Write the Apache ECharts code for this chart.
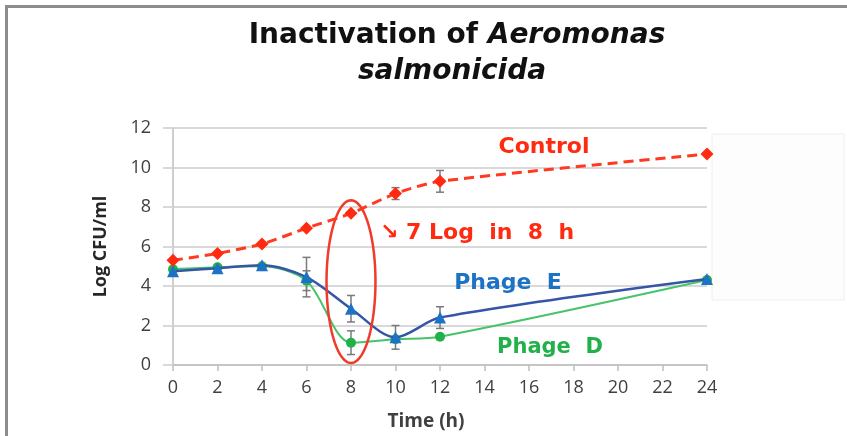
<!DOCTYPE html>
<html>
<head>
<meta charset="utf-8">
<script src="https://cdn.jsdelivr.net/npm/echarts@6/dist/echarts.min.js"></script>
<style>
  html, body { margin: 0; padding: 0; background: #fff; }
  #chart { width: 847px; height: 436px; }
</style>
</head>
<body>
<div id="chart"></div>
<script>
// Sampling times (h) and tick values
const times = [0, 2, 4, 6, 8, 10, 12, 24];
const xTicks = [0, 2, 4, 6, 8, 10, 12, 14, 16, 18, 20, 22, 24];
const yTicks = [0, 2, 4, 6, 8, 10, 12];

// Log CFU/ml for each treatment
const control = [5.3, 5.65, 6.13, 6.93, 7.68, 8.68, 9.3, 10.68];
const phageE = [4.75, 4.9, 5.05, 4.45, 2.85, 1.4, 2.4, 4.35];
const phageD = [4.85, 4.95, 5.0, 4.27, 1.13, 1.3, 1.43, 4.3];

// Standard deviations (0 = no bar drawn)
const controlErr = [0, 0, 0, 0, 0, 0.3, 0.55, 0];
const phageEErr = [0, 0, 0, 1.0, 0.67, 0.6, 0.55, 0];
const phageDErr = [0, 0, 0, 0.5, 0.6, 0, 0, 0];

const chart = echarts.init(document.getElementById('chart'));

function pairs(ys) { return times.map((t, i) => [t, ys[i]]); }
function errRows(ys, errs) {
  const rows = [];
  times.forEach((t, i) => { if (errs[i] > 0) rows.push([t, ys[i] - errs[i], ys[i] + errs[i]]); });
  return rows;
}

function errorSeries(rows) {
  return {
    type: 'custom',
    z: 1,
    silent: true,
    data: rows,
    renderItem: function (params, api) {
      const lo = api.coord([api.value(0), api.value(1)]);
      const hi = api.coord([api.value(0), api.value(2)]);
      const w = 4;
      const st = { stroke: '#7a7a7a', lineWidth: 1.5 };
      return {
        type: 'group',
        children: [
          { type: 'line', shape: { x1: lo[0], y1: lo[1], x2: hi[0], y2: hi[1] }, style: st },
          { type: 'line', shape: { x1: lo[0] - w, y1: lo[1], x2: lo[0] + w, y2: lo[1] }, style: st },
          { type: 'line', shape: { x1: hi[0] - w, y1: hi[1], x2: hi[0] + w, y2: hi[1] }, style: st }
        ]
      };
    }
  };
}

const labelFont = '"Open Sans", "Liberation Sans", sans-serif';
const noteFont = '"DejaVu Sans", "Noto Sans", sans-serif';

chart.setOption({
  animation: false,
  backgroundColor: '#ffffff',
  grid: { left: 173, right: 140, top: 128, bottom: 69 },
  xAxis: {
    type: 'value',
    min: 0, max: 24, interval: 2,
    axisLine: { show: true, lineStyle: { color: '#bfbfbf', width: 1.5 } },
    axisTick: { show: true, length: 6, lineStyle: { color: '#bfbfbf', width: 1.5 } },
    splitLine: { show: false },
    axisLabel: {
      color: '#404040', fontSize: 18, fontFamily: labelFont, margin: 14,
      formatter: v => xTicks.includes(v) ? String(v) : ''
    },
    name: 'Time (h)',
    nameLocation: 'middle',
    nameGap: 47,
    nameTextStyle: { color: '#404040', fontSize: 19, fontWeight: 'bold', fontFamily: labelFont, padding: [0, 28, 0, 0] }
  },
  yAxis: {
    type: 'value',
    min: 0, max: 12, interval: 2,
    axisLine: { show: true, lineStyle: { color: '#bfbfbf', width: 1.5 } },
    axisTick: { show: true, length: 10, lineStyle: { color: '#d9d9d9', width: 2 } },
    splitLine: { show: true, lineStyle: { color: '#d9d9d9', width: 2 } },
    axisLabel: {
      color: '#404040', fontSize: 18, fontFamily: labelFont, margin: 22,
      formatter: v => yTicks.includes(v) ? String(v) : ''
    },
    name: 'Log CFU/ml',
    nameLocation: 'middle',
    nameGap: 63,
    nameTextStyle: { color: '#262626', fontSize: 18, fontWeight: 'bold', fontFamily: labelFont }
  },
  series: [
    errorSeries(errRows(control, controlErr)),
    errorSeries(errRows(phageE, phageEErr)),
    errorSeries(errRows(phageD, phageDErr)),
    {
      name: 'Phage D',
      type: 'line',
      z: 2,
      data: pairs(phageD),
      smooth: 0.3,
      symbol: 'circle',
      symbolSize: 10,
      lineStyle: { color: '#45c46a', width: 2 },
      itemStyle: { color: '#22b04a' }
    },
    {
      name: 'Phage E',
      type: 'line',
      z: 3,
      data: pairs(phageE),
      smooth: 0.3,
      symbol: 'triangle',
      symbolSize: 12,
      lineStyle: { color: '#3556a6', width: 2.5 },
      itemStyle: { color: '#1c72c4' }
    },
    {
      name: 'Control',
      type: 'line',
      z: 4,
      data: pairs(control),
      smooth: 0.25,
      symbol: 'diamond',
      symbolSize: 13,
      lineStyle: { color: '#ff3a20', width: 3, type: [10, 6] },
      itemStyle: { color: '#ff2a10' }
    }
  ]
});

// Annotations: frame, empty legend box, ellipse around t = 8 h and text notes
const c = chart.convertToPixel({ gridIndex: 0 }, [8, 4.22]);
const r0 = chart.convertToPixel({ gridIndex: 0 }, [9.1, 8.34]);
const rx = r0[0] - c[0];
const ry = c[1] - r0[1];
const ring = [];
for (let k = 0; k < 96; k++) {
  const a = (k / 96) * Math.PI * 2;
  ring.push([c[0] + rx * Math.cos(a), c[1] + ry * Math.sin(a)]);
}

chart.setOption({
  graphic: [
    { type: 'line', shape: { x1: 5, y1: 6.5, x2: 847, y2: 6.5 }, style: { stroke: '#8c8c8c', lineWidth: 3 } },
    { type: 'line', shape: { x1: 6.5, y1: 5, x2: 6.5, y2: 436 }, style: { stroke: '#8c8c8c', lineWidth: 3 } },
    { type: 'rect', shape: { x: 712, y: 134, width: 132, height: 166 }, style: { fill: '#fdfdfd', stroke: '#efefef', lineWidth: 1 } },
    {
      type: 'polygon', z: 10,
      shape: { points: ring },
      style: { fill: 'none', stroke: '#f03a2a', lineWidth: 2.5 }
    },
    {
      type: 'text', x: 457, y: 36,
      style: {
        text: '{n|Inactivation of }{i|Aeromonas}',
        align: 'center', verticalAlign: 'middle',
        rich: {
          n: { fontSize: 28, fontWeight: 'bold', fontFamily: noteFont, fill: '#111' },
          i: { fontSize: 28, fontWeight: 'bold', fontStyle: 'italic', fontFamily: noteFont, fill: '#111' }
        }
      }
    },
    {
      type: 'text', x: 452, y: 72,
      style: {
        text: 'salmonicida', align: 'center', verticalAlign: 'middle',
        fontSize: 28, fontWeight: 'bold', fontStyle: 'italic', fontFamily: noteFont, fill: '#111'
      }
    },
    { type: 'text', x: 544, y: 147, style: { text: 'Control', align: 'center', verticalAlign: 'middle', fontSize: 22, fontWeight: 'bold', fontFamily: noteFont, fill: '#ff2a10' } },
    { type: 'text', x: 380, y: 233, style: { text: '↘ 7 Log  in  8  h', align: 'left', verticalAlign: 'middle', fontSize: 22, fontWeight: 'bold', fontFamily: noteFont, fill: '#ff2a10' } },
    { type: 'text', x: 508, y: 283, style: { text: 'Phage  E', align: 'center', verticalAlign: 'middle', fontSize: 22, fontWeight: 'bold', fontFamily: noteFont, fill: '#1c72c4' } },
    { type: 'text', x: 550, y: 348, style: { text: 'Phage  D', align: 'center', verticalAlign: 'middle', fontSize: 21, fontWeight: 'bold', fontFamily: noteFont, fill: '#22b04a' } }
  ]
});
</script>
</body>
</html>
